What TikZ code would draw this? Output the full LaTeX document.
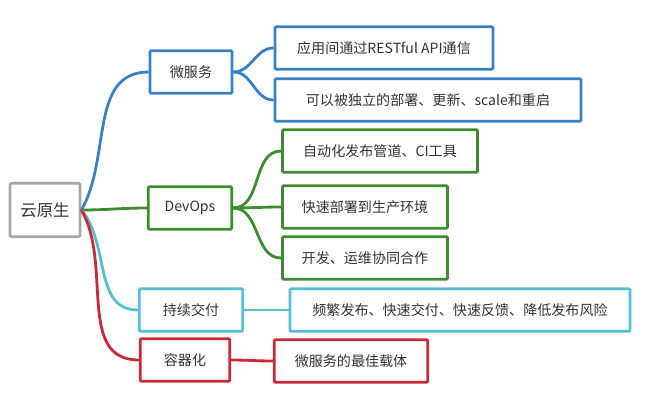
\documentclass[tikz,border=0pt]{standalone}
\usepackage{fontspec}
\newfontfamily\cjk{Noto Sans CJK SC}
\definecolor{msblue}{RGB}{58,128,200}
\definecolor{dogreen}{RGB}{62,140,48}
\definecolor{cdcyan}{RGB}{84,192,212}
\definecolor{ctred}{RGB}{204,40,56}
\begin{document}
\begin{tikzpicture}
    [x=0.03cm,y=-0.03cm,
     box/.style={draw,line width=2.4pt,rounded corners=1pt,inner sep=0pt,minimum height=1.28cm,font=\cjk\fontsize{12}{14}\selectfont,text=black!80},
     link/.style={line width=2.4pt}]
  \useasboundingbox (0,0) rectangle (664,406);

  \node[box,draw=black!35,minimum width=2.1cm,minimum height=1.6cm,font=\cjk\fontsize{14}{16}\selectfont] (root) at (45,210) {云原生};

  \foreach \name/\x/\y/\w/\col/\text in {ms/191/72/2.46/msblue/微服务, do/190/208/2.5/dogreen/DevOps,
      cd/191/310/3.1/cdcyan/持续交付, ct/185/360/2.68/ctred/容器化}
    \node[box,draw=\col,minimum width=\w cm] (P-\name) at (\x,\y) {\text};

  \foreach \name/\x/\y/\w/\col/\text in {ms1/384/48/6.54/msblue/应用间通过RESTful API通信,
      ms2/428/100/9.18/msblue/可以被独立的部署、更新、scale和重启,
      do1/380/151/5.85/dogreen/自动化发布管道、CI工具,
      do2/365/207/4.95/dogreen/快速部署到生产环境,
      do3/365/258/4.95/dogreen/开发、运维协同合作,
      cd1/460/310/10.2/cdcyan/频繁发布、快速交付、快速反馈、降低发布风险,
      ct1/351/361/4.6/ctred/微服务的最佳载体}
    \node[box,draw=\col,minimum width=\w cm] (C-\name) at (\x,\y) {\text};

  \foreach \name/\col/\ang in {ms/msblue/60,do/dogreen/0,cd/cdcyan/-50,ct/ctred/-60}
    \draw[link,\col] (root.east) to[out=\ang,in=180] (P-\name.west);

  \foreach \from/\to/\col in {ms/ms1/msblue,ms/ms2/msblue,do/do1/dogreen,do/do2/dogreen,
      do/do3/dogreen,cd/cd1/cdcyan,ct/ct1/ctred}
    \draw[link,\col] (P-\from.east) to[out=0,in=180] (C-\to.west);
\end{tikzpicture}
\end{document}
